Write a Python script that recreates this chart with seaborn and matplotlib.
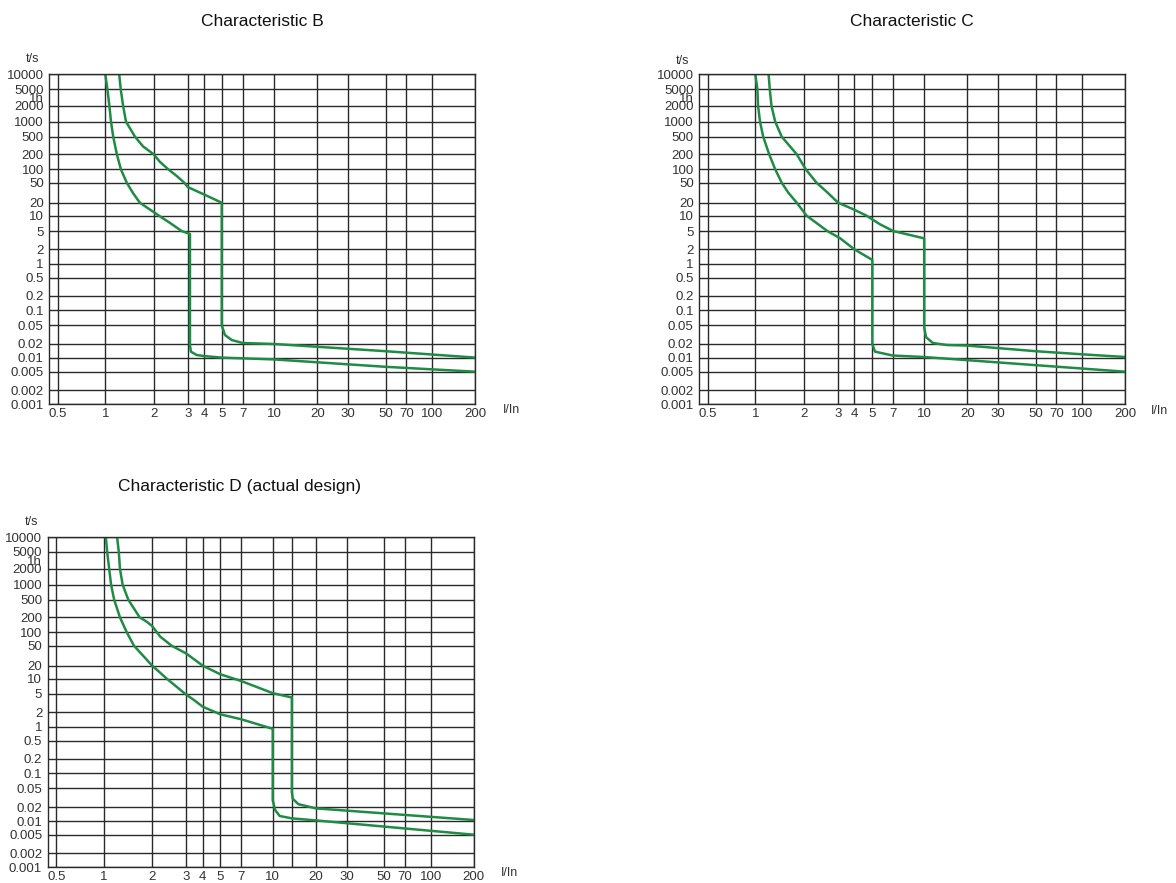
import numpy as np
import pandas as pd
import matplotlib
matplotlib.use("Agg")
import matplotlib.pyplot as plt
import matplotlib.transforms as mtransforms
import seaborn as sns

# ---- data ----
x_ticks = [0.5, 1, 2, 3, 4, 5, 7, 10, 20, 30, 50, 70, 100, 200]
x_labels = ["0.5", "1", "2", "3", "4", "5", "7", "10", "20", "30", "50", "70", "100", "200"]
y_ticks = [10000, 5000, 2000, 1000, 500, 200, 100, 50, 20, 10, 5, 2, 1,
           0.5, 0.2, 0.1, 0.05, 0.02, 0.01, 0.005, 0.002, 0.001]
y_labels = ["10000", "5000", "2000", "1000", "500", "200", "100", "50", "20", "10", "5", "2", "1",
            "0.5", "0.2", "0.1", "0.05", "0.02", "0.01", "0.005", "0.002", "0.001"]
hour_tick = 3600
hour_label = "1h"

# characteristic B
b_low_x = [1.0, 1.03, 1.06, 1.085, 1.12, 1.18, 1.25, 1.36, 1.49, 1.64, 2.13, 2.43, 2.79, 3.12,
           3.12, 3.17, 3.5, 4.0, 5.0, 10, 50, 200]
b_low_t = [10000, 5000, 2000, 1000, 500, 200, 100, 50, 30.8, 20, 10, 7.2, 5, 4.3,
           0.019, 0.0137, 0.0116, 0.011, 0.0102, 0.0093, 0.0064, 0.005]
b_up_x = [1.22, 1.247, 1.29, 1.345, 1.53, 1.72, 2.0, 2.15, 2.38, 2.63, 2.88, 3.0, 4.0, 5.0,
          5.0, 5.27, 5.87, 7, 10, 50, 200]
b_up_t = [10000, 5000, 2000, 1000, 500, 300, 200, 142, 100, 71, 50, 41, 29, 20,
          0.05, 0.031, 0.0243, 0.021, 0.02, 0.014, 0.0102]

# characteristic C
c_low_x = [1.0, 1.03, 1.04, 1.07, 1.12, 1.22, 1.33, 1.46, 1.6, 1.81, 2.07, 2.65, 3.13, 4.0, 5.05,
           5.05, 5.27, 7, 10, 200]
c_low_t = [10000, 5000, 2000, 1000, 500, 200, 100, 50, 32, 20, 10, 5, 3.47, 2, 1.2,
           0.02, 0.0137, 0.0113, 0.0105, 0.005]
c_up_x = [1.21, 1.23, 1.26, 1.33, 1.46, 1.81, 2.05, 2.33, 2.63, 3.02, 3.95, 4.68, 5.7, 7.03, 8.5, 10,
          10, 10.3, 11.5, 14.4, 20, 50, 100, 200]
c_up_t = [10000, 5000, 2000, 1000, 500, 200, 100, 50, 33, 20, 14, 10, 6.8, 5, 4.1, 3.46,
          0.045, 0.028, 0.021, 0.019, 0.0185, 0.014, 0.012, 0.0105]

# characteristic D
d_low_x = [1.03, 1.05, 1.08, 1.11, 1.16, 1.26, 1.39, 1.54, 2.0, 2.17, 2.38, 2.97, 3.43, 4.0, 5.0, 7.0, 8.35, 10,
           10, 10.4, 11.2, 13.6, 20, 200]
d_low_t = [10000, 5000, 2000, 1000, 500, 200, 100, 50, 20, 14.5, 10, 5, 3.7, 2.64, 1.82, 1.43, 1.14, 0.9,
           0.028, 0.0172, 0.0128, 0.0114, 0.0103, 0.005]
d_up_x = [1.21, 1.24, 1.26, 1.31, 1.42, 1.67, 1.85, 2.0, 2.2, 2.52, 3.0, 4.0, 5.0, 7.0, 10, 13.6,
          13.6, 13.8, 15.1, 20, 200]
d_up_t = [10000, 5000, 2000, 1000, 500, 200, 163, 133, 80, 50, 35, 20, 12.7, 9.0, 5.2, 4.2,
          0.042, 0.03, 0.023, 0.0187, 0.0105]
d_extra_grid = 13.6

# ---- layout (pixels of a 1176x883 canvas) ----
W, H = 1176, 883
x_anchor_v = [0.05] + x_ticks + [2000]
x_anchor_p = [-99.0, 58.0, 105.3, 153.7, 187.7, 204.3, 221.7, 242.7, 274.2, 317.3,
              348.3, 385.7, 406.3, 432.3, 475.3, 618.0]
y_anchor_v = [1e5] + y_ticks + [1e-4]
y_anchor_p = [27.3, 74.3, 89.0, 105.7, 121.7, 136.7, 154.3, 169.3, 182.7, 202.7, 215.7,
              231.0, 249.3, 263.7, 277.7, 295.7, 310.3, 325.3, 344.0, 358.0, 371.7,
              390.3, 404.3, 451.3]

GREEN = "#1f8c45"
GRID = "#2a2a2a"
TXT = "#333333"


def make_scale(vals, pix, sign):
    lv = np.log10(np.asarray(vals, dtype=float))
    q = sign * np.asarray(pix, dtype=float)
    order = np.argsort(lv)
    lv, q = lv[order], q[order]

    def fwd(v):
        v = np.clip(np.asarray(v, dtype=float), 1e-12, None)
        return np.interp(np.log10(v), lv, q)

    def inv(u):
        return 10 ** np.interp(np.asarray(u, dtype=float), q, lv)

    return fwd, inv


xf, xi = make_scale(x_anchor_v, x_anchor_p, 1)
yf, yi = make_scale(y_anchor_v, y_anchor_p, -1)

sns.set_style("white")
plt.rcParams["font.family"] = ["Liberation Sans", "DejaVu Sans"]

fig = plt.figure(figsize=(W / 100, H / 100), dpi=100)


def px(x, y):
    return x / W, 1 - y / H


def make_axes(left, top):
    width, height = 426.0, 330.0
    ax = fig.add_axes([left / W, 1 - (top + height) / H, width / W, height / H])
    ax.set_xscale("function", functions=(xf, xi))
    ax.set_yscale("function", functions=(yf, yi))
    ax.set_xlim(float(xi(49.3)), 200)
    ax.set_ylim(0.001, 10000)
    ax.set_xticks(x_ticks)
    ax.set_xticklabels(x_labels)
    ax.set_yticks(y_ticks)
    ax.set_yticklabels(y_labels)
    ax.set_yticks([hour_tick], minor=True)
    ax.set_yticklabels([hour_label], minor=True)
    ax.xaxis.set_minor_locator(matplotlib.ticker.NullLocator())
    ax.tick_params(axis="both", which="both", length=0, labelsize=9.5, colors=TXT)
    ax.tick_params(axis="x", pad=3)
    ax.tick_params(axis="y", which="both", pad=4)
    # the "1h" mark sits a touch lower, just over the 2000 label
    shift = mtransforms.ScaledTranslation(0, -2.5 / 100, fig.dpi_scale_trans)
    for lab in ax.get_yticklabels(minor=True):
        lab.set_transform(lab.get_transform() + shift)
    ax.grid(True, which="major", color=GRID, lw=1.0)
    for s in ax.spines.values():
        s.set_color(GRID)
        s.set_linewidth(1.0)
    return ax


def draw(ax, xs, ts):
    df = pd.DataFrame({"I": xs, "t": ts})
    sns.lineplot(data=df, x="I", y="t", ax=ax, color=GREEN, lw=1.8,
                 sort=False, estimator=None)
    ax.set_xlabel("")
    ax.set_ylabel("")


ax_b = make_axes(49.3, 74.3)
draw(ax_b, b_low_x, b_low_t)
draw(ax_b, b_up_x, b_up_t)

ax_c = make_axes(699.3, 74.3)
draw(ax_c, c_low_x, c_low_t)
draw(ax_c, c_up_x, c_up_t)

ax_d = make_axes(47.8, 537.3)
ax_d.axvline(d_extra_grid, color=GRID, lw=1.0, zorder=0.5)
draw(ax_d, d_low_x, d_low_t)
draw(ax_d, d_up_x, d_up_t)

titles = [("Characteristic B", 262, 22), ("Characteristic C", 912, 22),
          ("Characteristic D (actual design)", 240, 487)]
for text, x, y in titles:
    fig.text(*px(x, y), text, ha="center", va="center", fontsize=12.5, color="#111111")

for x, y in [(33, 59), (683, 61), (32, 522)]:
    fig.text(*px(x, y), "t/s", ha="center", va="center", fontsize=9, color=TXT)
for x, y in [(511, 410), (1160, 411), (510, 873)]:
    fig.text(*px(x, y), "I/In", ha="center", va="center", fontsize=9, color=TXT)

fig.savefig("out.png", dpi=100)
